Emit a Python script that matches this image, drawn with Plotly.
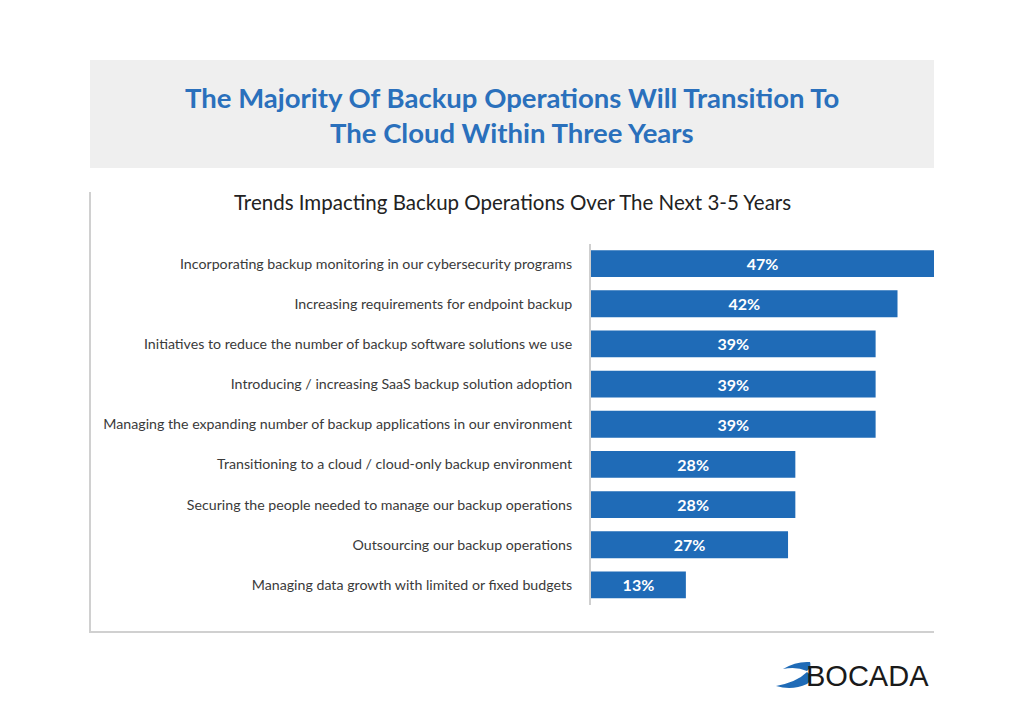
import plotly.graph_objects as go

W, H = 1024, 723
OFF = 8  # page body margin offset

categories = [
    "Incorporating backup monitoring in our cybersecurity programs",
    "Increasing requirements for endpoint backup",
    "Initiatives to reduce the number of backup software solutions we use",
    "Introducing / increasing SaaS backup solution adoption",
    "Managing the expanding number of backup applications in our environment",
    "Transitioning to a cloud / cloud-only backup environment",
    "Securing the people needed to manage our backup operations",
    "Outsourcing our backup operations",
    "Managing data growth with limited or fixed budgets",
]
values = [47, 42, 39, 39, 39, 28, 28, 27, 13]
value_labels = [f"{v}%" for v in values]

title_lines = ["The Majority Of Backup Operations Will Transition To",
               "The Cloud Within Three Years"]
subtitle = "Trends Impacting Backup Operations Over The Next 3-5 Years"

BAR = "#1f6bb7"
TITLE_BLUE = "#2a70bc"
FONT = "Lato"


def px(x):
    return (x - OFF) / W


def py(y):
    return 1 - (y - OFF) / H


fig = go.Figure(go.Bar(
    x=values, y=categories, orientation="h",
    marker=dict(color=BAR, line=dict(width=0)),
    text=value_labels, textposition="inside", insidetextanchor="middle",
    textfont=dict(color="white", size=16, family=FONT, weight="bold"),
    hoverinfo="skip", width=0.67,
))

fig.update_layout(
    width=W, height=H, margin=dict(l=0, r=0, t=0, b=0),
    paper_bgcolor="white", plot_bgcolor="white",
    showlegend=False, font=dict(family=FONT, color="#333333"),
)
fig.update_xaxes(domain=[px(591), px(934)], range=[0, 47], visible=False, fixedrange=True)
fig.update_yaxes(domain=[py(605), py(243.5)], autorange="reversed",
                 showline=True, linecolor="#cfcfcf", linewidth=2,
                 showgrid=False, zeroline=False, ticks="outside", ticklen=0,
                 ticklabelstandoff=14,
                 tickfont=dict(size=14.2, family=FONT, color="#3a3a3a"))

shapes = [
    dict(type="rect", xref="paper", yref="paper", x0=px(90), x1=px(934), y0=py(168), y1=py(60),
         fillcolor="#efefef", line=dict(width=0), layer="below"),
    dict(type="line", xref="paper", yref="paper", x0=px(90), x1=px(90), y0=py(632), y1=py(192),
         line=dict(color="#d0d0d0", width=2)),
    dict(type="line", xref="paper", yref="paper", x0=px(89), x1=px(934), y0=py(632), y1=py(632),
         line=dict(color="#d0d0d0", width=2)),
]

swoosh_top = "M {} {} Q {} {} {} {} Q {} {} {} {} Q {} {} {} {} Z".format(
    px(783), py(669), px(796), py(661), px(810), py(662),
    px(812), py(667), px(807), py(671),
    px(796), py(666), px(783), py(669))
swoosh_bot = "M {} {} Q {} {} {} {} Q {} {} {} {} Q {} {} {} {} Z".format(
    px(776), py(686), px(797), py(682), px(807), py(672),
    px(815), py(678), px(807), py(684),
    px(792), py(691), px(776), py(686))
shapes += [
    dict(type="path", xref="paper", yref="paper", path=swoosh_top, fillcolor="#1f6bb7", line=dict(width=0)),
    dict(type="path", xref="paper", yref="paper", path=swoosh_bot, fillcolor="#1f6bb7", line=dict(width=0)),
]
fig.update_layout(shapes=shapes)

annotations = [
    dict(text=title_lines[0], x=px(512), y=py(97), xref="paper", yref="paper", showarrow=False,
         font=dict(size=27.5, color=TITLE_BLUE, family=FONT, weight="bold"), xanchor="center", yanchor="middle"),
    dict(text=title_lines[1], x=px(512), y=py(132), xref="paper", yref="paper", showarrow=False,
         font=dict(size=27.5, color=TITLE_BLUE, family=FONT, weight="bold"), xanchor="center", yanchor="middle"),
    dict(text=subtitle, x=px(512), y=py(202), xref="paper", yref="paper", showarrow=False,
         font=dict(size=20.5, color="#222222", family=FONT), xanchor="center", yanchor="middle"),
    dict(text="BOCADA", x=px(931), y=py(676), xref="paper", yref="paper", showarrow=False,
         font=dict(size=29, color="#1a1a1a", family="Liberation Sans"), xanchor="right", yanchor="middle"),
]
fig.update_layout(annotations=annotations)

fig.write_html("out.html")
